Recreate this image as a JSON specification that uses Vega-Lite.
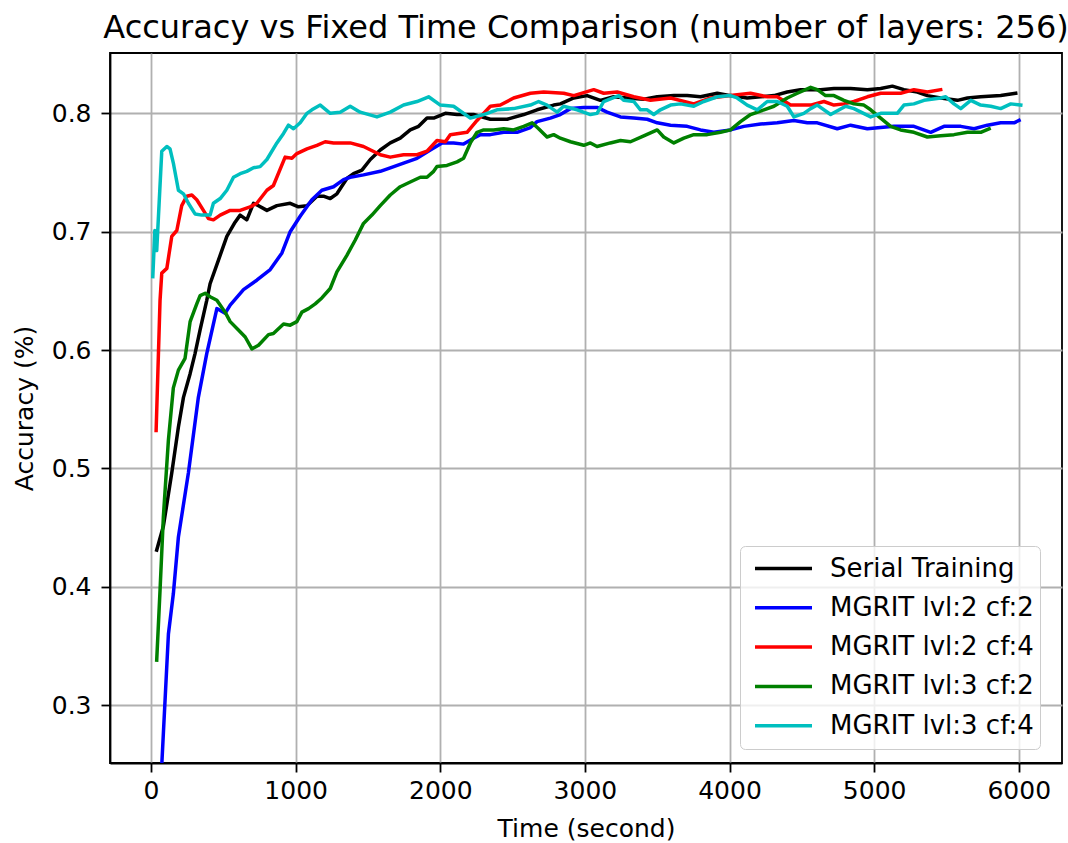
{
  "$schema": "https://vega.github.io/schema/vega-lite/v6.json",
  "width": 952,
  "height": 710,
  "autosize": {"type": "none"},
  "padding": {"left": 110, "top": 53, "right": 6, "bottom": 80},
  "background": "white",
  "title": {"text": "Accuracy vs Fixed Time Comparison (number of layers: 256)", "font": "DejaVu Sans", "fontSize": 32, "fontWeight": "normal", "color": "black", "anchor": "middle", "offset": 8},
  "config": {
    "font": "DejaVu Sans",
    "view": {"stroke": "black", "strokeWidth": 1.8},
    "axis": {"labelFont": "DejaVu Sans", "titleFont": "DejaVu Sans", "labelFontSize": 25, "titleFontSize": 25, "titleFontWeight": "normal", "labelColor": "black", "titleColor": "black", "domainColor": "black", "domainWidth": 1.8, "tickColor": "black", "tickWidth": 1.8, "tickSize": 9, "gridColor": "#b0b0b0", "gridWidth": 1.8, "gridOpacity": 1}
  },
  "data": {"values": [
    {"s":"Serial Training","t":39,"a":0.431},{"s":"Serial Training","t":85,"a":0.451},{"s":"Serial Training","t":143,"a":0.496},{"s":"Serial Training","t":189,"a":0.535},{"s":"Serial Training","t":224,"a":0.560},{"s":"Serial Training","t":270,"a":0.580},{"s":"Serial Training","t":304,"a":0.597},{"s":"Serial Training","t":339,"a":0.617},{"s":"Serial Training","t":385,"a":0.642},{"s":"Serial Training","t":408,"a":0.656},{"s":"Serial Training","t":466,"a":0.676},{"s":"Serial Training","t":524,"a":0.696},{"s":"Serial Training","t":581,"a":0.708},{"s":"Serial Training","t":616,"a":0.714},{"s":"Serial Training","t":662,"a":0.710},{"s":"Serial Training","t":708,"a":0.724},{"s":"Serial Training","t":743,"a":0.722},{"s":"Serial Training","t":801,"a":0.718},{"s":"Serial Training","t":870,"a":0.722},{"s":"Serial Training","t":962,"a":0.724},{"s":"Serial Training","t":1019,"a":0.721},{"s":"Serial Training","t":1078,"a":0.722},{"s":"Serial Training","t":1147,"a":0.730},{"s":"Serial Training","t":1192,"a":0.730},{"s":"Serial Training","t":1239,"a":0.728},{"s":"Serial Training","t":1285,"a":0.732},{"s":"Serial Training","t":1354,"a":0.745},{"s":"Serial Training","t":1400,"a":0.749},{"s":"Serial Training","t":1458,"a":0.752},{"s":"Serial Training","t":1516,"a":0.761},{"s":"Serial Training","t":1585,"a":0.769},{"s":"Serial Training","t":1654,"a":0.775},{"s":"Serial Training","t":1723,"a":0.779},{"s":"Serial Training","t":1792,"a":0.786},{"s":"Serial Training","t":1850,"a":0.789},{"s":"Serial Training","t":1908,"a":0.796},{"s":"Serial Training","t":1954,"a":0.796},{"s":"Serial Training","t":2035,"a":0.800},{"s":"Serial Training","t":2116,"a":0.799},{"s":"Serial Training","t":2230,"a":0.799},{"s":"Serial Training","t":2346,"a":0.795},{"s":"Serial Training","t":2462,"a":0.795},{"s":"Serial Training","t":2577,"a":0.799},{"s":"Serial Training","t":2669,"a":0.803},{"s":"Serial Training","t":2784,"a":0.807},{"s":"Serial Training","t":2830,"a":0.808},{"s":"Serial Training","t":2923,"a":0.813},{"s":"Serial Training","t":3015,"a":0.815},{"s":"Serial Training","t":3107,"a":0.811},{"s":"Serial Training","t":3199,"a":0.814},{"s":"Serial Training","t":3292,"a":0.813},{"s":"Serial Training","t":3407,"a":0.812},{"s":"Serial Training","t":3500,"a":0.814},{"s":"Serial Training","t":3615,"a":0.815},{"s":"Serial Training","t":3707,"a":0.815},{"s":"Serial Training","t":3799,"a":0.814},{"s":"Serial Training","t":3915,"a":0.817},{"s":"Serial Training","t":4007,"a":0.815},{"s":"Serial Training","t":4122,"a":0.813},{"s":"Serial Training","t":4215,"a":0.814},{"s":"Serial Training","t":4307,"a":0.815},{"s":"Serial Training","t":4399,"a":0.818},{"s":"Serial Training","t":4491,"a":0.820},{"s":"Serial Training","t":4630,"a":0.820},{"s":"Serial Training","t":4722,"a":0.821},{"s":"Serial Training","t":4837,"a":0.821},{"s":"Serial Training","t":4953,"a":0.820},{"s":"Serial Training","t":5045,"a":0.821},{"s":"Serial Training","t":5126,"a":0.823},{"s":"Serial Training","t":5206,"a":0.820},{"s":"Serial Training","t":5299,"a":0.818},{"s":"Serial Training","t":5368,"a":0.815},{"s":"Serial Training","t":5460,"a":0.813},{"s":"Serial Training","t":5576,"a":0.811},{"s":"Serial Training","t":5645,"a":0.813},{"s":"Serial Training","t":5737,"a":0.814},{"s":"Serial Training","t":5875,"a":0.815},{"s":"Serial Training","t":5979,"a":0.817},

    {"s":"MGRIT lvl:2 cf:2","t":68,"a":0.235},{"s":"MGRIT lvl:2 cf:2","t":120,"a":0.360},{"s":"MGRIT lvl:2 cf:2","t":154,"a":0.394},{"s":"MGRIT lvl:2 cf:2","t":189,"a":0.442},{"s":"MGRIT lvl:2 cf:2","t":258,"a":0.496},{"s":"MGRIT lvl:2 cf:2","t":327,"a":0.560},{"s":"MGRIT lvl:2 cf:2","t":385,"a":0.597},{"s":"MGRIT lvl:2 cf:2","t":455,"a":0.635},{"s":"MGRIT lvl:2 cf:2","t":512,"a":0.631},{"s":"MGRIT lvl:2 cf:2","t":547,"a":0.638},{"s":"MGRIT lvl:2 cf:2","t":639,"a":0.651},{"s":"MGRIT lvl:2 cf:2","t":731,"a":0.659},{"s":"MGRIT lvl:2 cf:2","t":824,"a":0.668},{"s":"MGRIT lvl:2 cf:2","t":905,"a":0.682},{"s":"MGRIT lvl:2 cf:2","t":962,"a":0.700},{"s":"MGRIT lvl:2 cf:2","t":1031,"a":0.713},{"s":"MGRIT lvl:2 cf:2","t":1112,"a":0.727},{"s":"MGRIT lvl:2 cf:2","t":1181,"a":0.735},{"s":"MGRIT lvl:2 cf:2","t":1262,"a":0.738},{"s":"MGRIT lvl:2 cf:2","t":1331,"a":0.744},{"s":"MGRIT lvl:2 cf:2","t":1377,"a":0.746},{"s":"MGRIT lvl:2 cf:2","t":1469,"a":0.748},{"s":"MGRIT lvl:2 cf:2","t":1585,"a":0.751},{"s":"MGRIT lvl:2 cf:2","t":1654,"a":0.754},{"s":"MGRIT lvl:2 cf:2","t":1746,"a":0.758},{"s":"MGRIT lvl:2 cf:2","t":1839,"a":0.762},{"s":"MGRIT lvl:2 cf:2","t":1931,"a":0.769},{"s":"MGRIT lvl:2 cf:2","t":2012,"a":0.775},{"s":"MGRIT lvl:2 cf:2","t":2092,"a":0.775},{"s":"MGRIT lvl:2 cf:2","t":2161,"a":0.774},{"s":"MGRIT lvl:2 cf:2","t":2230,"a":0.779},{"s":"MGRIT lvl:2 cf:2","t":2277,"a":0.782},{"s":"MGRIT lvl:2 cf:2","t":2346,"a":0.782},{"s":"MGRIT lvl:2 cf:2","t":2438,"a":0.784},{"s":"MGRIT lvl:2 cf:2","t":2531,"a":0.784},{"s":"MGRIT lvl:2 cf:2","t":2623,"a":0.788},{"s":"MGRIT lvl:2 cf:2","t":2669,"a":0.793},{"s":"MGRIT lvl:2 cf:2","t":2761,"a":0.796},{"s":"MGRIT lvl:2 cf:2","t":2830,"a":0.799},{"s":"MGRIT lvl:2 cf:2","t":2900,"a":0.804},{"s":"MGRIT lvl:2 cf:2","t":2992,"a":0.805},{"s":"MGRIT lvl:2 cf:2","t":3084,"a":0.805},{"s":"MGRIT lvl:2 cf:2","t":3153,"a":0.801},{"s":"MGRIT lvl:2 cf:2","t":3246,"a":0.797},{"s":"MGRIT lvl:2 cf:2","t":3338,"a":0.796},{"s":"MGRIT lvl:2 cf:2","t":3431,"a":0.795},{"s":"MGRIT lvl:2 cf:2","t":3500,"a":0.792},{"s":"MGRIT lvl:2 cf:2","t":3592,"a":0.790},{"s":"MGRIT lvl:2 cf:2","t":3707,"a":0.789},{"s":"MGRIT lvl:2 cf:2","t":3799,"a":0.786},{"s":"MGRIT lvl:2 cf:2","t":3891,"a":0.784},{"s":"MGRIT lvl:2 cf:2","t":4007,"a":0.786},{"s":"MGRIT lvl:2 cf:2","t":4099,"a":0.789},{"s":"MGRIT lvl:2 cf:2","t":4215,"a":0.791},{"s":"MGRIT lvl:2 cf:2","t":4330,"a":0.792},{"s":"MGRIT lvl:2 cf:2","t":4445,"a":0.794},{"s":"MGRIT lvl:2 cf:2","t":4538,"a":0.792},{"s":"MGRIT lvl:2 cf:2","t":4607,"a":0.792},{"s":"MGRIT lvl:2 cf:2","t":4745,"a":0.787},{"s":"MGRIT lvl:2 cf:2","t":4837,"a":0.790},{"s":"MGRIT lvl:2 cf:2","t":4953,"a":0.787},{"s":"MGRIT lvl:2 cf:2","t":5137,"a":0.789},{"s":"MGRIT lvl:2 cf:2","t":5275,"a":0.789},{"s":"MGRIT lvl:2 cf:2","t":5391,"a":0.784},{"s":"MGRIT lvl:2 cf:2","t":5483,"a":0.789},{"s":"MGRIT lvl:2 cf:2","t":5599,"a":0.789},{"s":"MGRIT lvl:2 cf:2","t":5691,"a":0.787},{"s":"MGRIT lvl:2 cf:2","t":5783,"a":0.790},{"s":"MGRIT lvl:2 cf:2","t":5875,"a":0.792},{"s":"MGRIT lvl:2 cf:2","t":5968,"a":0.792},{"s":"MGRIT lvl:2 cf:2","t":6002,"a":0.794},

    {"s":"MGRIT lvl:2 cf:4","t":35,"a":0.532},{"s":"MGRIT lvl:2 cf:4","t":62,"a":0.642},{"s":"MGRIT lvl:2 cf:4","t":74,"a":0.665},{"s":"MGRIT lvl:2 cf:4","t":109,"a":0.669},{"s":"MGRIT lvl:2 cf:4","t":143,"a":0.696},{"s":"MGRIT lvl:2 cf:4","t":178,"a":0.701},{"s":"MGRIT lvl:2 cf:4","t":212,"a":0.722},{"s":"MGRIT lvl:2 cf:4","t":247,"a":0.730},{"s":"MGRIT lvl:2 cf:4","t":282,"a":0.731},{"s":"MGRIT lvl:2 cf:4","t":316,"a":0.727},{"s":"MGRIT lvl:2 cf:4","t":362,"a":0.718},{"s":"MGRIT lvl:2 cf:4","t":397,"a":0.711},{"s":"MGRIT lvl:2 cf:4","t":431,"a":0.710},{"s":"MGRIT lvl:2 cf:4","t":478,"a":0.714},{"s":"MGRIT lvl:2 cf:4","t":547,"a":0.718},{"s":"MGRIT lvl:2 cf:4","t":616,"a":0.718},{"s":"MGRIT lvl:2 cf:4","t":685,"a":0.721},{"s":"MGRIT lvl:2 cf:4","t":731,"a":0.724},{"s":"MGRIT lvl:2 cf:4","t":801,"a":0.735},{"s":"MGRIT lvl:2 cf:4","t":846,"a":0.739},{"s":"MGRIT lvl:2 cf:4","t":927,"a":0.763},{"s":"MGRIT lvl:2 cf:4","t":974,"a":0.762},{"s":"MGRIT lvl:2 cf:4","t":1008,"a":0.766},{"s":"MGRIT lvl:2 cf:4","t":1078,"a":0.770},{"s":"MGRIT lvl:2 cf:4","t":1147,"a":0.773},{"s":"MGRIT lvl:2 cf:4","t":1204,"a":0.776},{"s":"MGRIT lvl:2 cf:4","t":1262,"a":0.775},{"s":"MGRIT lvl:2 cf:4","t":1377,"a":0.775},{"s":"MGRIT lvl:2 cf:4","t":1469,"a":0.772},{"s":"MGRIT lvl:2 cf:4","t":1585,"a":0.765},{"s":"MGRIT lvl:2 cf:4","t":1654,"a":0.763},{"s":"MGRIT lvl:2 cf:4","t":1746,"a":0.765},{"s":"MGRIT lvl:2 cf:4","t":1839,"a":0.765},{"s":"MGRIT lvl:2 cf:4","t":1908,"a":0.768},{"s":"MGRIT lvl:2 cf:4","t":1977,"a":0.777},{"s":"MGRIT lvl:2 cf:4","t":2035,"a":0.776},{"s":"MGRIT lvl:2 cf:4","t":2069,"a":0.782},{"s":"MGRIT lvl:2 cf:4","t":2185,"a":0.784},{"s":"MGRIT lvl:2 cf:4","t":2254,"a":0.794},{"s":"MGRIT lvl:2 cf:4","t":2346,"a":0.806},{"s":"MGRIT lvl:2 cf:4","t":2415,"a":0.807},{"s":"MGRIT lvl:2 cf:4","t":2507,"a":0.813},{"s":"MGRIT lvl:2 cf:4","t":2623,"a":0.817},{"s":"MGRIT lvl:2 cf:4","t":2715,"a":0.818},{"s":"MGRIT lvl:2 cf:4","t":2853,"a":0.817},{"s":"MGRIT lvl:2 cf:4","t":2923,"a":0.815},{"s":"MGRIT lvl:2 cf:4","t":3061,"a":0.820},{"s":"MGRIT lvl:2 cf:4","t":3130,"a":0.817},{"s":"MGRIT lvl:2 cf:4","t":3223,"a":0.818},{"s":"MGRIT lvl:2 cf:4","t":3338,"a":0.814},{"s":"MGRIT lvl:2 cf:4","t":3453,"a":0.811},{"s":"MGRIT lvl:2 cf:4","t":3592,"a":0.813},{"s":"MGRIT lvl:2 cf:4","t":3753,"a":0.808},{"s":"MGRIT lvl:2 cf:4","t":3869,"a":0.813},{"s":"MGRIT lvl:2 cf:4","t":4007,"a":0.815},{"s":"MGRIT lvl:2 cf:4","t":4145,"a":0.817},{"s":"MGRIT lvl:2 cf:4","t":4261,"a":0.814},{"s":"MGRIT lvl:2 cf:4","t":4330,"a":0.814},{"s":"MGRIT lvl:2 cf:4","t":4422,"a":0.807},{"s":"MGRIT lvl:2 cf:4","t":4561,"a":0.807},{"s":"MGRIT lvl:2 cf:4","t":4653,"a":0.810},{"s":"MGRIT lvl:2 cf:4","t":4722,"a":0.807},{"s":"MGRIT lvl:2 cf:4","t":4791,"a":0.808},{"s":"MGRIT lvl:2 cf:4","t":4860,"a":0.810},{"s":"MGRIT lvl:2 cf:4","t":4953,"a":0.814},{"s":"MGRIT lvl:2 cf:4","t":5045,"a":0.817},{"s":"MGRIT lvl:2 cf:4","t":5183,"a":0.817},{"s":"MGRIT lvl:2 cf:4","t":5275,"a":0.820},{"s":"MGRIT lvl:2 cf:4","t":5368,"a":0.818},{"s":"MGRIT lvl:2 cf:4","t":5460,"a":0.820},

    {"s":"MGRIT lvl:3 cf:2","t":39,"a":0.338},{"s":"MGRIT lvl:3 cf:2","t":62,"a":0.397},{"s":"MGRIT lvl:3 cf:2","t":85,"a":0.459},{"s":"MGRIT lvl:3 cf:2","t":120,"a":0.524},{"s":"MGRIT lvl:3 cf:2","t":154,"a":0.568},{"s":"MGRIT lvl:3 cf:2","t":189,"a":0.583},{"s":"MGRIT lvl:3 cf:2","t":235,"a":0.593},{"s":"MGRIT lvl:3 cf:2","t":270,"a":0.624},{"s":"MGRIT lvl:3 cf:2","t":316,"a":0.639},{"s":"MGRIT lvl:3 cf:2","t":339,"a":0.646},{"s":"MGRIT lvl:3 cf:2","t":374,"a":0.648},{"s":"MGRIT lvl:3 cf:2","t":408,"a":0.645},{"s":"MGRIT lvl:3 cf:2","t":455,"a":0.642},{"s":"MGRIT lvl:3 cf:2","t":512,"a":0.632},{"s":"MGRIT lvl:3 cf:2","t":547,"a":0.624},{"s":"MGRIT lvl:3 cf:2","t":604,"a":0.617},{"s":"MGRIT lvl:3 cf:2","t":651,"a":0.611},{"s":"MGRIT lvl:3 cf:2","t":697,"a":0.601},{"s":"MGRIT lvl:3 cf:2","t":743,"a":0.604},{"s":"MGRIT lvl:3 cf:2","t":812,"a":0.613},{"s":"MGRIT lvl:3 cf:2","t":846,"a":0.614},{"s":"MGRIT lvl:3 cf:2","t":916,"a":0.622},{"s":"MGRIT lvl:3 cf:2","t":962,"a":0.621},{"s":"MGRIT lvl:3 cf:2","t":1008,"a":0.624},{"s":"MGRIT lvl:3 cf:2","t":1043,"a":0.632},{"s":"MGRIT lvl:3 cf:2","t":1089,"a":0.635},{"s":"MGRIT lvl:3 cf:2","t":1135,"a":0.639},{"s":"MGRIT lvl:3 cf:2","t":1181,"a":0.644},{"s":"MGRIT lvl:3 cf:2","t":1239,"a":0.652},{"s":"MGRIT lvl:3 cf:2","t":1285,"a":0.666},{"s":"MGRIT lvl:3 cf:2","t":1354,"a":0.680},{"s":"MGRIT lvl:3 cf:2","t":1412,"a":0.693},{"s":"MGRIT lvl:3 cf:2","t":1469,"a":0.707},{"s":"MGRIT lvl:3 cf:2","t":1527,"a":0.714},{"s":"MGRIT lvl:3 cf:2","t":1585,"a":0.722},{"s":"MGRIT lvl:3 cf:2","t":1654,"a":0.731},{"s":"MGRIT lvl:3 cf:2","t":1723,"a":0.738},{"s":"MGRIT lvl:3 cf:2","t":1792,"a":0.742},{"s":"MGRIT lvl:3 cf:2","t":1862,"a":0.746},{"s":"MGRIT lvl:3 cf:2","t":1908,"a":0.746},{"s":"MGRIT lvl:3 cf:2","t":1954,"a":0.751},{"s":"MGRIT lvl:3 cf:2","t":1977,"a":0.755},{"s":"MGRIT lvl:3 cf:2","t":2046,"a":0.756},{"s":"MGRIT lvl:3 cf:2","t":2116,"a":0.759},{"s":"MGRIT lvl:3 cf:2","t":2161,"a":0.762},{"s":"MGRIT lvl:3 cf:2","t":2208,"a":0.775},{"s":"MGRIT lvl:3 cf:2","t":2254,"a":0.784},{"s":"MGRIT lvl:3 cf:2","t":2300,"a":0.786},{"s":"MGRIT lvl:3 cf:2","t":2369,"a":0.786},{"s":"MGRIT lvl:3 cf:2","t":2438,"a":0.787},{"s":"MGRIT lvl:3 cf:2","t":2507,"a":0.786},{"s":"MGRIT lvl:3 cf:2","t":2577,"a":0.789},{"s":"MGRIT lvl:3 cf:2","t":2635,"a":0.792},{"s":"MGRIT lvl:3 cf:2","t":2680,"a":0.787},{"s":"MGRIT lvl:3 cf:2","t":2738,"a":0.780},{"s":"MGRIT lvl:3 cf:2","t":2784,"a":0.782},{"s":"MGRIT lvl:3 cf:2","t":2830,"a":0.779},{"s":"MGRIT lvl:3 cf:2","t":2900,"a":0.776},{"s":"MGRIT lvl:3 cf:2","t":2992,"a":0.773},{"s":"MGRIT lvl:3 cf:2","t":3038,"a":0.775},{"s":"MGRIT lvl:3 cf:2","t":3084,"a":0.772},{"s":"MGRIT lvl:3 cf:2","t":3176,"a":0.775},{"s":"MGRIT lvl:3 cf:2","t":3246,"a":0.777},{"s":"MGRIT lvl:3 cf:2","t":3315,"a":0.776},{"s":"MGRIT lvl:3 cf:2","t":3407,"a":0.781},{"s":"MGRIT lvl:3 cf:2","t":3500,"a":0.786},{"s":"MGRIT lvl:3 cf:2","t":3545,"a":0.780},{"s":"MGRIT lvl:3 cf:2","t":3615,"a":0.775},{"s":"MGRIT lvl:3 cf:2","t":3684,"a":0.779},{"s":"MGRIT lvl:3 cf:2","t":3753,"a":0.782},{"s":"MGRIT lvl:3 cf:2","t":3846,"a":0.782},{"s":"MGRIT lvl:3 cf:2","t":3938,"a":0.784},{"s":"MGRIT lvl:3 cf:2","t":4007,"a":0.786},{"s":"MGRIT lvl:3 cf:2","t":4076,"a":0.793},{"s":"MGRIT lvl:3 cf:2","t":4145,"a":0.799},{"s":"MGRIT lvl:3 cf:2","t":4238,"a":0.803},{"s":"MGRIT lvl:3 cf:2","t":4307,"a":0.806},{"s":"MGRIT lvl:3 cf:2","t":4399,"a":0.813},{"s":"MGRIT lvl:3 cf:2","t":4469,"a":0.817},{"s":"MGRIT lvl:3 cf:2","t":4561,"a":0.822},{"s":"MGRIT lvl:3 cf:2","t":4607,"a":0.820},{"s":"MGRIT lvl:3 cf:2","t":4664,"a":0.815},{"s":"MGRIT lvl:3 cf:2","t":4722,"a":0.815},{"s":"MGRIT lvl:3 cf:2","t":4791,"a":0.811},{"s":"MGRIT lvl:3 cf:2","t":4860,"a":0.808},{"s":"MGRIT lvl:3 cf:2","t":4929,"a":0.807},{"s":"MGRIT lvl:3 cf:2","t":4976,"a":0.803},{"s":"MGRIT lvl:3 cf:2","t":5045,"a":0.796},{"s":"MGRIT lvl:3 cf:2","t":5114,"a":0.789},{"s":"MGRIT lvl:3 cf:2","t":5183,"a":0.786},{"s":"MGRIT lvl:3 cf:2","t":5275,"a":0.784},{"s":"MGRIT lvl:3 cf:2","t":5368,"a":0.780},{"s":"MGRIT lvl:3 cf:2","t":5460,"a":0.781},{"s":"MGRIT lvl:3 cf:2","t":5552,"a":0.782},{"s":"MGRIT lvl:3 cf:2","t":5645,"a":0.784},{"s":"MGRIT lvl:3 cf:2","t":5737,"a":0.784},{"s":"MGRIT lvl:3 cf:2","t":5795,"a":0.787},

    {"s":"MGRIT lvl:3 cf:4","t":12,"a":0.662},{"s":"MGRIT lvl:3 cf:4","t":26,"a":0.701},{"s":"MGRIT lvl:3 cf:4","t":39,"a":0.684},{"s":"MGRIT lvl:3 cf:4","t":74,"a":0.768},{"s":"MGRIT lvl:3 cf:4","t":109,"a":0.772},{"s":"MGRIT lvl:3 cf:4","t":131,"a":0.770},{"s":"MGRIT lvl:3 cf:4","t":154,"a":0.758},{"s":"MGRIT lvl:3 cf:4","t":189,"a":0.735},{"s":"MGRIT lvl:3 cf:4","t":224,"a":0.732},{"s":"MGRIT lvl:3 cf:4","t":258,"a":0.724},{"s":"MGRIT lvl:3 cf:4","t":304,"a":0.715},{"s":"MGRIT lvl:3 cf:4","t":351,"a":0.714},{"s":"MGRIT lvl:3 cf:4","t":408,"a":0.714},{"s":"MGRIT lvl:3 cf:4","t":431,"a":0.724},{"s":"MGRIT lvl:3 cf:4","t":478,"a":0.728},{"s":"MGRIT lvl:3 cf:4","t":524,"a":0.735},{"s":"MGRIT lvl:3 cf:4","t":570,"a":0.746},{"s":"MGRIT lvl:3 cf:4","t":616,"a":0.749},{"s":"MGRIT lvl:3 cf:4","t":662,"a":0.751},{"s":"MGRIT lvl:3 cf:4","t":708,"a":0.754},{"s":"MGRIT lvl:3 cf:4","t":754,"a":0.755},{"s":"MGRIT lvl:3 cf:4","t":801,"a":0.761},{"s":"MGRIT lvl:3 cf:4","t":870,"a":0.775},{"s":"MGRIT lvl:3 cf:4","t":916,"a":0.783},{"s":"MGRIT lvl:3 cf:4","t":950,"a":0.790},{"s":"MGRIT lvl:3 cf:4","t":985,"a":0.787},{"s":"MGRIT lvl:3 cf:4","t":1031,"a":0.792},{"s":"MGRIT lvl:3 cf:4","t":1078,"a":0.800},{"s":"MGRIT lvl:3 cf:4","t":1112,"a":0.803},{"s":"MGRIT lvl:3 cf:4","t":1170,"a":0.807},{"s":"MGRIT lvl:3 cf:4","t":1239,"a":0.800},{"s":"MGRIT lvl:3 cf:4","t":1308,"a":0.801},{"s":"MGRIT lvl:3 cf:4","t":1377,"a":0.806},{"s":"MGRIT lvl:3 cf:4","t":1446,"a":0.801},{"s":"MGRIT lvl:3 cf:4","t":1562,"a":0.797},{"s":"MGRIT lvl:3 cf:4","t":1654,"a":0.801},{"s":"MGRIT lvl:3 cf:4","t":1746,"a":0.807},{"s":"MGRIT lvl:3 cf:4","t":1839,"a":0.810},{"s":"MGRIT lvl:3 cf:4","t":1919,"a":0.814},{"s":"MGRIT lvl:3 cf:4","t":2000,"a":0.807},{"s":"MGRIT lvl:3 cf:4","t":2092,"a":0.806},{"s":"MGRIT lvl:3 cf:4","t":2208,"a":0.796},{"s":"MGRIT lvl:3 cf:4","t":2300,"a":0.799},{"s":"MGRIT lvl:3 cf:4","t":2392,"a":0.803},{"s":"MGRIT lvl:3 cf:4","t":2507,"a":0.804},{"s":"MGRIT lvl:3 cf:4","t":2623,"a":0.807},{"s":"MGRIT lvl:3 cf:4","t":2680,"a":0.810},{"s":"MGRIT lvl:3 cf:4","t":2738,"a":0.807},{"s":"MGRIT lvl:3 cf:4","t":2808,"a":0.801},{"s":"MGRIT lvl:3 cf:4","t":2853,"a":0.806},{"s":"MGRIT lvl:3 cf:4","t":2946,"a":0.803},{"s":"MGRIT lvl:3 cf:4","t":3038,"a":0.799},{"s":"MGRIT lvl:3 cf:4","t":3084,"a":0.800},{"s":"MGRIT lvl:3 cf:4","t":3130,"a":0.810},{"s":"MGRIT lvl:3 cf:4","t":3211,"a":0.814},{"s":"MGRIT lvl:3 cf:4","t":3234,"a":0.815},{"s":"MGRIT lvl:3 cf:4","t":3268,"a":0.811},{"s":"MGRIT lvl:3 cf:4","t":3338,"a":0.810},{"s":"MGRIT lvl:3 cf:4","t":3384,"a":0.803},{"s":"MGRIT lvl:3 cf:4","t":3431,"a":0.803},{"s":"MGRIT lvl:3 cf:4","t":3476,"a":0.799},{"s":"MGRIT lvl:3 cf:4","t":3522,"a":0.803},{"s":"MGRIT lvl:3 cf:4","t":3592,"a":0.807},{"s":"MGRIT lvl:3 cf:4","t":3661,"a":0.808},{"s":"MGRIT lvl:3 cf:4","t":3753,"a":0.806},{"s":"MGRIT lvl:3 cf:4","t":3822,"a":0.810},{"s":"MGRIT lvl:3 cf:4","t":3915,"a":0.814},{"s":"MGRIT lvl:3 cf:4","t":4007,"a":0.815},{"s":"MGRIT lvl:3 cf:4","t":4053,"a":0.813},{"s":"MGRIT lvl:3 cf:4","t":4122,"a":0.807},{"s":"MGRIT lvl:3 cf:4","t":4192,"a":0.803},{"s":"MGRIT lvl:3 cf:4","t":4261,"a":0.810},{"s":"MGRIT lvl:3 cf:4","t":4330,"a":0.810},{"s":"MGRIT lvl:3 cf:4","t":4399,"a":0.806},{"s":"MGRIT lvl:3 cf:4","t":4445,"a":0.797},{"s":"MGRIT lvl:3 cf:4","t":4514,"a":0.800},{"s":"MGRIT lvl:3 cf:4","t":4561,"a":0.804},{"s":"MGRIT lvl:3 cf:4","t":4607,"a":0.807},{"s":"MGRIT lvl:3 cf:4","t":4699,"a":0.799},{"s":"MGRIT lvl:3 cf:4","t":4803,"a":0.806},{"s":"MGRIT lvl:3 cf:4","t":4860,"a":0.804},{"s":"MGRIT lvl:3 cf:4","t":4976,"a":0.797},{"s":"MGRIT lvl:3 cf:4","t":5045,"a":0.800},{"s":"MGRIT lvl:3 cf:4","t":5160,"a":0.800},{"s":"MGRIT lvl:3 cf:4","t":5206,"a":0.807},{"s":"MGRIT lvl:3 cf:4","t":5275,"a":0.808},{"s":"MGRIT lvl:3 cf:4","t":5345,"a":0.811},{"s":"MGRIT lvl:3 cf:4","t":5460,"a":0.813},{"s":"MGRIT lvl:3 cf:4","t":5495,"a":0.814},{"s":"MGRIT lvl:3 cf:4","t":5552,"a":0.808},{"s":"MGRIT lvl:3 cf:4","t":5599,"a":0.804},{"s":"MGRIT lvl:3 cf:4","t":5668,"a":0.811},{"s":"MGRIT lvl:3 cf:4","t":5737,"a":0.807},{"s":"MGRIT lvl:3 cf:4","t":5806,"a":0.806},{"s":"MGRIT lvl:3 cf:4","t":5875,"a":0.804},{"s":"MGRIT lvl:3 cf:4","t":5945,"a":0.808},{"s":"MGRIT lvl:3 cf:4","t":6014,"a":0.807}
  ]},
  "mark": {"type": "line", "strokeWidth": 3.5, "clip": true, "strokeJoin": "round", "strokeCap": "square"},
  "encoding": {
    "x": {"field": "t", "type": "quantitative", "scale": {"domain": [-284, 6299], "nice": false, "zero": false}, "axis": {"title": "Time (second)", "values": [0, 1000, 2000, 3000, 4000, 5000, 6000], "format": "d", "labelPadding": 6, "titlePadding": 13}},
    "y": {"field": "a", "type": "quantitative", "scale": {"domain": [0.251, 0.851], "nice": false, "zero": false}, "axis": {"title": "Accuracy (%)", "values": [0.3, 0.4, 0.5, 0.6, 0.7, 0.8], "format": ".1f", "labelPadding": 10, "titlePadding": 14}},
    "color": {"field": "s", "type": "nominal", "sort": ["Serial Training", "MGRIT lvl:2 cf:2", "MGRIT lvl:2 cf:4", "MGRIT lvl:3 cf:2", "MGRIT lvl:3 cf:4"],
      "scale": {"domain": ["Serial Training", "MGRIT lvl:2 cf:2", "MGRIT lvl:2 cf:4", "MGRIT lvl:3 cf:2", "MGRIT lvl:3 cf:4"], "range": ["#000000", "#0000ff", "#ff0000", "#008000", "#00bfbf"]},
      "legend": {"title": null, "orient": "none", "legendX": 630, "legendY": 493, "padding": 6, "fillColor": "rgba(255,255,255,0.8)", "strokeColor": "#cccccc", "cornerRadius": 5, "symbolType": "stroke", "symbolSize": 3249, "symbolStrokeWidth": 3.5, "symbolOffset": 7, "clipHeight": 33, "labelFontSize": 26, "labelFont": "DejaVu Sans", "labelColor": "black", "labelOffset": 16, "labelLimit": 0, "rowPadding": 6.3}
    },
    "order": {"field": "t", "type": "quantitative"}
  }
}
